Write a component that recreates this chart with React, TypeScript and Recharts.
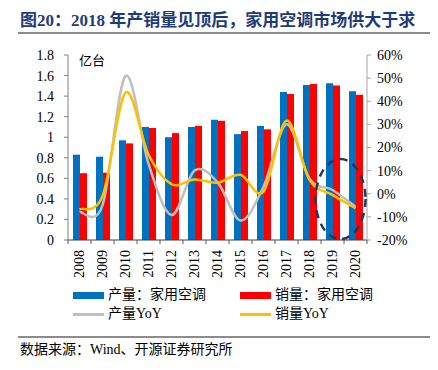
import React from "react";
import { Bar, ComposedChart, Line, ReferenceDot, XAxis, YAxis } from "recharts";

const years = ["2008", "2009", "2010", "2011", "2012", "2013", "2014", "2015", "2016", "2017", "2018", "2019", "2020"];
const production = [0.83, 0.81, 0.97, 1.1, 1.0, 1.1, 1.17, 1.03, 1.11, 1.44, 1.508, 1.524, 1.447];
const sales = [0.65, 0.655, 0.94, 1.09, 1.04, 1.11, 1.16, 1.06, 1.077, 1.42, 1.517, 1.504, 1.414];
const productionYoY = [-7.8, -5, 50.9, 13, -9.2, 10, 5, -11.6, 3, 30, 6.5, 1.6, -5.6];
const salesYoY = [-6.7, -1, 43.7, 17, 4.2, 6.2, 4.8, 8.2, 0.9, 31.6, 6, -0.5, -6.3];
const leftTicks = [0, 0.2, 0.4, 0.6, 0.8, 1, 1.2, 1.4, 1.6, 1.8];
const rightTicks = [-20, -10, 0, 10, 20, 30, 40, 50, 60];

const data = years.map((year, i) => ({
  year,
  production: production[i],
  sales: sales[i],
  productionYoY: productionYoY[i],
  salesYoY: salesYoY[i]
}));

const serif = "'Liberation Serif', 'Times New Roman', 'Noto Sans CJK SC', serif";
const cjk = "'Liberation Serif', 'Noto Sans CJK SC', serif";

// smooth line like the spreadsheet one: passes through every point, slight overshoot
function smoothCurve(context: any) {
  let pts: number[][] = [];
  return {
    areaStart() {},
    areaEnd() {},
    lineStart() {
      pts = [];
    },
    point(x: number, y: number) {
      pts.push([+x, +y]);
    },
    lineEnd() {
      if (!pts.length) return;
      context.moveTo(pts[0][0], pts[0][1]);
      for (let i = 0; i < pts.length - 1; i++) {
        const p0 = pts[i - 1] || pts[i];
        const p1 = pts[i];
        const p2 = pts[i + 1];
        const p3 = pts[i + 2] || p2;
        context.bezierCurveTo(
          p1[0] + (p2[0] - p0[0]) / 6,
          p1[1] + (p2[1] - p0[1]) / 6,
          p2[0] - (p3[0] - p1[0]) / 6,
          p2[1] - (p3[1] - p1[1]) / 6,
          p2[0],
          p2[1]
        );
      }
    }
  };
}

// year labels read bottom-to-top, small ticks between the groups
const YearTick = ({ x, y, payload, index }: any) => (
  <g>
    <line x1={x - 11.5} y1={y} x2={x - 11.5} y2={y + 4} stroke="#595959" />
    {index === years.length - 1 && <line x1={x + 11.5} y1={y} x2={x + 11.5} y2={y + 4} stroke="#595959" />}
    <text
      transform={`translate(${x},${y + 10}) rotate(-90)`}
      textAnchor="end"
      dy="0.35em"
      fontFamily={serif}
      fontSize={14}
      fill="#000"
    >
      {payload.value}
    </text>
  </g>
);

const Ellipse = ({ cx, cy }: any) => (
  <ellipse cx={cx + 8} cy={cy} rx={25} ry={40} fill="none" stroke="#1F3864" strokeWidth={2.5} strokeDasharray="8 6" />
);

export default function App() {
  return (
    <div style={{ position: "absolute", left: 0, top: 0, width: 438, height: 370, background: "#fff" }}>
      <div
        style={{
          position: "absolute",
          left: 20,
          top: 6,
          fontFamily: cjk,
          fontWeight: "bold",
          fontSize: 17,
          color: "#1F3B7A",
          whiteSpace: "nowrap"
        }}
      >
        图20：2018 年产销量见顶后，家用空调市场供大于求
      </div>
      <div style={{ position: "absolute", left: 18, top: 32, width: 412, height: 2, background: "#8c8c8c" }} />

      <div style={{ position: "absolute", left: 0, top: 0 }}>
        <ComposedChart
          width={438}
          height={290}
          data={data}
          margin={{ top: 55, right: 0, left: 0, bottom: 0 }}
          barGap={0}
        >
          <XAxis
            dataKey="year"
            height={50}
            tickLine={false}
            tickSize={0}
            tickMargin={0}
            interval={0}
            tick={<YearTick />}
            axisLine={{ stroke: "#404040" }}
          />
          <YAxis
            yAxisId="left"
            width={68}
            domain={[0, 1.8]}
            ticks={leftTicks}
            interval={0}
            tickFormatter={(v: number) => String(v)}
            tickSize={4}
            tickMargin={10}
            tickLine={{ stroke: "#808080" }}
            axisLine={{ stroke: "#808080" }}
            tick={{ fontFamily: serif, fontSize: 14, fill: "#000" }}
          />
          <YAxis
            yAxisId="right"
            orientation="right"
            width={71}
            domain={[-20, 60]}
            ticks={rightTicks}
            interval={0}
            tickFormatter={(v: number) => `${v}%`}
            tickSize={4}
            tickMargin={6}
            tickLine={{ stroke: "#a6a6a6" }}
            axisLine={{ stroke: "#a6a6a6" }}
            tick={{ fontFamily: serif, fontSize: 14, fill: "#000" }}
          />
          <Bar yAxisId="left" dataKey="production" fill="#0070C0" barSize={7} isAnimationActive={false} />
          <Bar yAxisId="left" dataKey="sales" fill="#FF0000" barSize={7} isAnimationActive={false} />
          <Line
            yAxisId="right"
            dataKey="productionYoY"
            type={smoothCurve as any}
            stroke="#BFBFBF"
            strokeWidth={2.5}
            dot={false}
            isAnimationActive={false}
          />
          <Line
            yAxisId="right"
            dataKey="salesYoY"
            type={smoothCurve as any}
            stroke="#FFC000"
            strokeWidth={2.5}
            dot={false}
            isAnimationActive={false}
          />
          <ReferenceDot yAxisId="right" x="2019" y={-2.3} shape={<Ellipse />} />
          <text x={79} y={65} fontFamily={cjk} fontSize={13} fill="#000">
            亿台
          </text>
        </ComposedChart>
      </div>

      <div style={{ position: "absolute", left: 0, top: 0, fontFamily: cjk, fontSize: 14, color: "#000" }}>
        <div style={{ position: "absolute", left: 73, top: 292, width: 31, height: 7, background: "#0070C0" }} />
        <div style={{ position: "absolute", left: 108, top: 286, whiteSpace: "nowrap", lineHeight: "18px" }}>产量：家用空调</div>
        <div style={{ position: "absolute", left: 240, top: 292, width: 31, height: 7, background: "#FF0000" }} />
        <div style={{ position: "absolute", left: 275, top: 286, whiteSpace: "nowrap", lineHeight: "18px" }}>销量：家用空调</div>
        <div style={{ position: "absolute", left: 73, top: 313, width: 31, height: 3, background: "#BFBFBF" }} />
        <div style={{ position: "absolute", left: 108, top: 305, whiteSpace: "nowrap", lineHeight: "18px" }}>产量YoY</div>
        <div style={{ position: "absolute", left: 240, top: 313, width: 31, height: 3, background: "#FFC000" }} />
        <div style={{ position: "absolute", left: 275, top: 305, whiteSpace: "nowrap", lineHeight: "18px" }}>销量YoY</div>
      </div>

      <div style={{ position: "absolute", left: 18, top: 336, width: 412, height: 2, background: "#8c8c8c" }} />
      <div
        style={{
          position: "absolute",
          left: 20,
          top: 341,
          fontFamily: cjk,
          fontSize: 14,
          color: "#000",
          whiteSpace: "nowrap",
          lineHeight: "18px"
        }}
      >
        数据来源：Wind、开源证券研究所
      </div>
    </div>
  );
}
